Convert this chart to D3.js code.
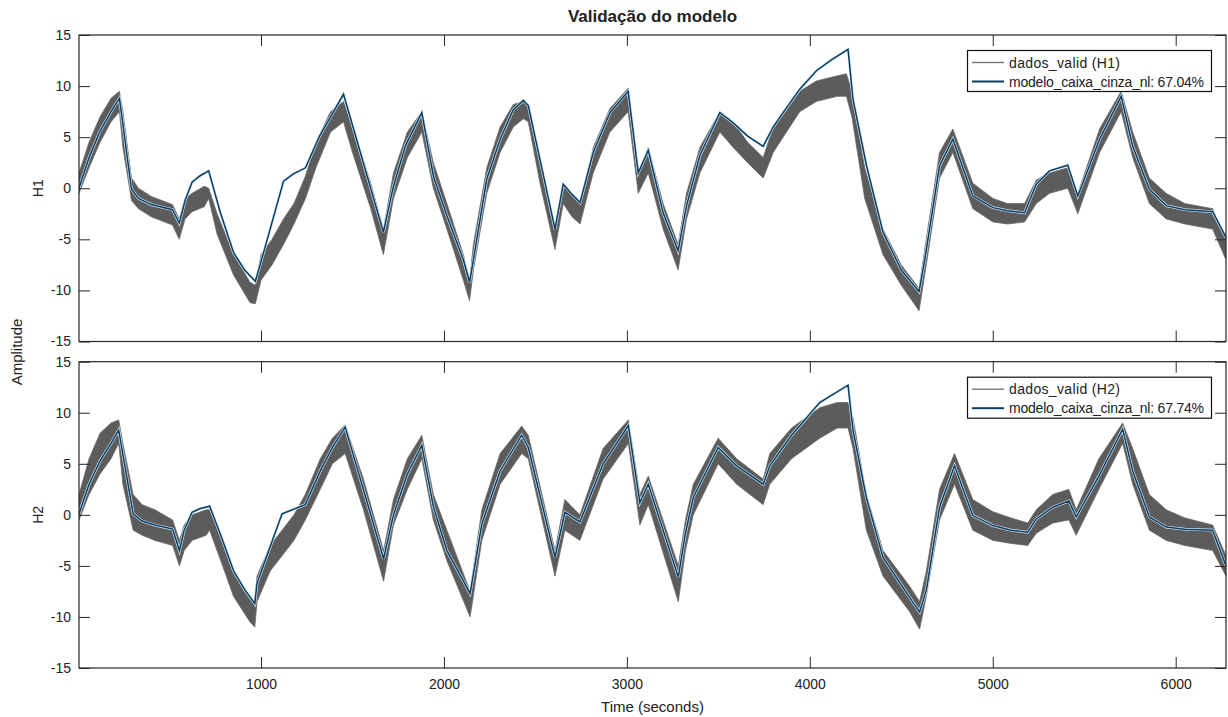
<!DOCTYPE html>
<html>
<head>
<meta charset="utf-8">
<script src="https://cdn.jsdelivr.net/npm/d3@7"></script>
<style>
    body { margin: 0; background: #fff; }
    text { font-family: "Liberation Sans", Arial, sans-serif; fill: #222; }
</style>
</head>
<body>
<svg id="drawing_region"></svg>
<script>
// tick values
const xTicks = [1000, 2000, 3000, 4000, 5000, 6000];
const yTicks = [-15, -10, -5, 0, 5, 10, 15];

// modelo_caixa_cinza_nl, saida H1  [tempo, amplitude]
const modeloH1 = [
    [5, 0], [60, 3.0], [120, 5.6], [180, 7.5], [226, 8.8], [292, -0.1], [330, -1.0], [400, -1.6],
    [516, -2.1], [553, -3.4], [585, -1.2], [623, 0.6], [665, 1.2], [714, 1.7], [745, -0.3], [778, -2.4],
    [850, -6.3], [910, -8.0], [969, -9.1], [1014, -6.3], [1123, 0.7], [1177, 1.4], [1243, 2.0],
    [1320, 5.1], [1390, 7.3], [1451, 9.2], [1669, -4.3], [1724, 0.2], [1790, 4.2], [1879, 7.4],
    [1942, 1.2], [2016, -2.7], [2106, -7.0], [2140, -9.2], [2161, -7.0], [2234, 0.9], [2307, 4.8],
    [2379, 7.7], [2434, 8.6], [2461, 8.1], [2525, 2.8], [2607, -4.0], [2652, 0.4], [2700, -0.6],
    [2744, -1.4], [2816, 3.5], [2907, 7.4], [3007, 9.5], [3062, 1.5], [3117, 3.7], [3198, -2.4],
    [3280, -6.1], [3326, -1.7], [3399, 3.2], [3508, 7.4], [3581, 6.4], [3660, 5.1], [3745, 4.1],
    [3800, 6.0], [3854, 7.4], [3945, 9.7], [4036, 11.5], [4120, 12.6], [4209, 13.6], [4236, 8.7],
    [4310, 2.2], [4400, -4.3], [4500, -8.0], [4597, -10.1], [4628, -7.0], [4709, 2.2], [4782, 4.8],
    [4891, -0.75], [5001, -1.9], [5080, -2.2], [5174, -2.4], [5238, 0.4], [5310, 1.7], [5410, 2.25],
    [5465, -0.75], [5584, 4.8], [5702, 9.0], [5765, 4.1], [5856, -0.1], [5948, -1.7], [6050, -2.1],
    [6202, -2.3], [6275, -4.8]
];

// dados_valid H1, faixa do sinal medido  [tempo, min, max]
const dadosH1 = [
    [5, -0.5, 1.5], [60, 2.0, 4.5], [120, 4.5, 7.0], [180, 6.5, 8.8], [226, 7.5, 9.5], [245, 4.0, 7.5],
    [292, -1.2, 1.0], [330, -2.0, 0.0], [400, -2.8, -0.8], [516, -3.6, -1.6], [553, -5.0, -3.0],
    [585, -3.0, -1.0], [623, -2.3, -0.5], [690, -1.8, 0.2], [714, -1.0, 0.0], [760, -4.5, -2.5],
    [850, -8.5, -6.5], [940, -11.2, -9.2], [969, -11.3, -9.5], [1000, -9.0, -6.5], [1060, -7.5, -5.0],
    [1123, -5.5, -3.0], [1180, -3.5, -1.5], [1243, -1.0, 1.2], [1300, 2.0, 4.5], [1380, 5.5, 7.5],
    [1451, 6.5, 8.5], [1500, 3.5, 6.0], [1600, -2.0, 0.5], [1669, -6.5, -4.0], [1724, -1.0, 1.5],
    [1800, 3.0, 5.5], [1879, 5.5, 7.5], [1942, 0.0, 2.5], [2016, -4.0, -1.5], [2106, -9.0, -6.5],
    [2140, -11.0, -9.0], [2161, -8.0, -5.5], [2234, -0.5, 2.0], [2307, 3.5, 6.0], [2379, 6.0, 8.2],
    [2434, 6.8, 8.5], [2461, 6.5, 8.0], [2525, 0.5, 3.0], [2607, -6.0, -4.0], [2652, -1.5, 0.5],
    [2700, -2.8, -0.5], [2744, -3.5, -1.5], [2816, 1.5, 4.0], [2907, 5.5, 7.8], [3007, 7.5, 9.8],
    [3062, -0.5, 1.5], [3117, 1.5, 4.0], [3198, -4.0, -1.5], [3280, -8.0, -5.5], [3326, -3.0, -0.5],
    [3399, 1.5, 4.0], [3508, 5.5, 7.5], [3581, 4.0, 6.5], [3660, 2.5, 4.5], [3745, 1.0, 3.0],
    [3800, 3.5, 6.0], [3854, 5.0, 7.5], [3945, 7.5, 9.5], [4036, 8.5, 10.5], [4150, 9.0, 11.0],
    [4200, 9.0, 11.2], [4230, 7.0, 9.5], [4300, -1.0, 2.0], [4400, -6.5, -4.0], [4500, -9.5, -7.5],
    [4597, -12.0, -9.8], [4628, -8.5, -6.0], [4709, 1.0, 3.5], [4782, 3.5, 5.8], [4891, -2.0, 0.5],
    [5001, -3.3, -1.0], [5080, -3.5, -1.5], [5174, -3.3, -1.5], [5238, -1.5, 0.8], [5310, -0.5, 1.5],
    [5410, 0.0, 2.0], [5465, -2.5, -0.5], [5584, 3.5, 5.8], [5702, 7.5, 9.5], [5765, 3.0, 5.5],
    [5856, -1.5, 1.0], [5948, -3.0, -0.5], [6050, -3.5, -1.5], [6202, -4.0, -2.0], [6275, -7.0, -5.0]
];

// modelo_caixa_cinza_nl, saida H2
const modeloH2 = [
    [5, 0.1], [60, 3.0], [120, 5.3], [180, 7.0], [222, 8.3], [301, 0.1], [350, -0.6], [420, -1.0],
    [517, -1.4], [554, -3.5], [580, -1.5], [623, 0.25], [665, 0.6], [719, 0.85], [780, -2.0],
    [850, -5.5], [910, -7.3], [966, -8.7], [978, -6.7], [1115, 0.1], [1242, 1.0], [1324, 4.3],
    [1390, 6.6], [1460, 8.6], [1670, -4.3], [1724, 0.0], [1800, 4.0], [1879, 6.8], [1942, 0.8],
    [2016, -3.5], [2143, -7.7], [2207, -0.9], [2307, 4.3], [2425, 7.8], [2461, 6.6], [2607, -4.15],
    [2661, 0.25], [2743, -0.7], [2870, 5.0], [3008, 8.75], [3071, 1.2], [3117, 3.0], [3281, -6.1],
    [3320, -1.8], [3363, 1.7], [3499, 6.6], [3600, 4.8], [3745, 3.0], [3781, 4.8], [3900, 7.8],
    [4054, 11.0], [4209, 12.7], [4236, 8.3], [4309, 1.7], [4400, -4.15], [4546, -8.1], [4600, -9.5],
    [4637, -7.4], [4709, 0.75], [4791, 4.8], [4891, -0.07], [5001, -1.05], [5100, -1.5], [5191, -1.7],
    [5238, -0.4], [5328, 0.75], [5416, 1.35], [5456, -0.2], [5580, 3.8], [5710, 8.4], [5765, 4.3],
    [5856, -0.2], [5948, -1.2], [6050, -1.4], [6202, -1.5], [6275, -5.0]
];

// dados_valid H2
const dadosH2 = [
    [5, -0.5, 2.0], [60, 2.0, 5.5], [120, 4.0, 8.0], [180, 5.5, 9.0], [222, 7.0, 9.3], [245, 3.0, 7.0],
    [301, -1.5, 2.0], [350, -2.0, 1.0], [420, -2.5, 0.5], [517, -3.0, -0.5], [554, -5.0, -2.5],
    [580, -3.5, -1.0], [623, -2.5, 0.0], [700, -2.0, 0.5], [719, -1.5, 0.5], [780, -4.5, -2.0],
    [850, -8.0, -5.5], [940, -10.5, -8.0], [966, -11.0, -8.5], [978, -8.5, -6.0], [1050, -5.5, -3.0],
    [1115, -4.0, -1.5], [1180, -2.5, 0.0], [1242, -0.5, 2.0], [1324, 2.5, 5.5], [1390, 5.0, 7.5],
    [1460, 6.0, 8.8], [1560, 0.5, 3.5], [1670, -6.5, -3.5], [1724, -1.0, 1.5], [1800, 2.5, 5.5],
    [1879, 5.5, 7.8], [1942, -0.5, 2.0], [2016, -4.5, -1.5], [2143, -10.0, -7.5], [2207, -2.5, 0.5],
    [2307, 3.0, 6.0], [2425, 6.0, 8.7], [2461, 5.5, 7.8], [2607, -6.0, -3.5], [2661, -1.5, 1.5],
    [2743, -2.5, 0.0], [2870, 3.5, 6.5], [3008, 7.0, 9.3], [3071, -1.0, 2.0], [3117, 1.0, 3.8],
    [3281, -8.5, -5.0], [3320, -3.5, -0.5], [3363, 0.0, 3.0], [3499, 5.0, 7.5], [3600, 3.0, 5.5],
    [3745, 1.0, 3.5], [3781, 3.0, 6.0], [3900, 5.5, 8.5], [4054, 7.5, 10.5], [4150, 8.5, 11.0],
    [4209, 8.5, 11.0], [4236, 6.5, 9.5], [4309, -1.5, 2.0], [4400, -6.0, -3.5], [4546, -9.5, -7.0],
    [4600, -11.2, -8.5], [4637, -8.0, -5.5], [4709, -0.5, 2.5], [4791, 3.0, 6.0], [4891, -1.5, 1.5],
    [5001, -2.5, 0.3], [5100, -2.8, -0.3], [5191, -3.0, -0.8], [5238, -1.8, 0.5], [5328, -0.8, 2.0],
    [5416, -0.5, 2.5], [5456, -2.0, 0.5], [5580, 2.5, 5.5], [5710, 7.0, 9.0], [5765, 3.0, 6.5],
    [5856, -1.5, 2.0], [5948, -2.5, 0.5], [6050, -3.0, -0.3], [6202, -3.5, -1.0], [6275, -6.0, -4.0]
];

const legendH1 = ['dados_valid (H1)', 'modelo_caixa_cinza_nl: 67.04%'];
const legendH2 = ['dados_valid (H2)', 'modelo_caixa_cinza_nl: 67.74%'];

const width = 1228, height = 717;
const svg = d3.select('#drawing_region')
    .attr('width', width)
    .attr('height', height);

const left = 79, right = 1226;
const xscale = d3.scaleLinear()
    .domain([5, 6275])
    .range([left, right]);

const panels = [
    { name: 'H1', top: 35, bottom: 341.5, modelo: modeloH1, dados: dadosH1, legend: legendH1, xlabels: false },
    { name: 'H2', top: 361.7, bottom: 668, modelo: modeloH2, dados: dadosH2, legend: legendH2, xlabels: true }
];

const tickLen = 11;
const axisColor = '#262626';
const plain = d => String(d);   // hyphen minus, as in the original figure

panels.forEach((p, i) => {
    const yscale = d3.scaleLinear()
        .domain([-15, 15])
        .range([p.bottom, p.top]);

    const g = svg.append('g');

    g.append('clipPath').attr('id', 'clip' + i)
        .append('rect')
        .attr('x', left).attr('y', p.top)
        .attr('width', right - left).attr('height', p.bottom - p.top);

    const plot = g.append('g').attr('clip-path', `url(#clip${i})`);

    // measured data band
    const area = d3.area()
        .x(d => xscale(d[0]))
        .y0(d => yscale(d[1]))
        .y1(d => yscale(d[2]));
    plot.append('path')
        .attr('d', area(p.dados))
        .attr('fill', '#5c5c5c')
        .attr('stroke', '#6a6a6a')
        .attr('stroke-width', 0.8);

    // model line
    const line = d3.line()
        .x(d => xscale(d[0]))
        .y(d => yscale(d[1]));
    plot.append('path')
        .attr('d', line(p.modelo))
        .attr('fill', 'none')
        .attr('stroke', '#d2ebf7')
        .attr('stroke-width', 2.8);
    plot.append('path')
        .attr('d', line(p.modelo))
        .attr('fill', 'none')
        .attr('stroke', '#0b3c62')
        .attr('stroke-width', 1.5);

    // axes, ticks pointing inward like MATLAB
    const yLeft = d3.axisLeft(yscale).tickValues(yTicks).tickSize(-tickLen).tickPadding(8).tickFormat(plain);
    const yRight = d3.axisRight(yscale).tickValues(yTicks).tickSize(-tickLen).tickFormat('');
    const xTop = d3.axisTop(xscale).tickValues(xTicks).tickSize(-tickLen).tickFormat('');
    const xBottom = d3.axisBottom(xscale).tickValues(xTicks).tickSize(-tickLen)
        .tickPadding(11)
        .tickFormat(p.xlabels ? plain : '');

    const axes = [
        g.append('g').attr('transform', `translate(${left},0)`).call(yLeft),
        g.append('g').attr('transform', `translate(${right},0)`).call(yRight),
        g.append('g').attr('transform', `translate(0,${p.top})`).call(xTop),
        g.append('g').attr('transform', `translate(0,${p.bottom})`).call(xBottom)
    ];
    axes.forEach(a => {
        a.select('.domain').remove();
        a.selectAll('line').attr('stroke', axisColor);
        a.selectAll('text').attr('font-size', 14).attr('fill', '#222')
            .attr('font-family', '"Liberation Sans", Arial, sans-serif');
    });

    g.append('rect')
        .attr('x', left).attr('y', p.top)
        .attr('width', right - left).attr('height', p.bottom - p.top)
        .attr('fill', 'none')
        .attr('stroke', axisColor)
        .attr('stroke-width', 1.2);

    // panel label
    g.append('text')
        .attr('transform', `translate(43,${(p.top + p.bottom) / 2}) rotate(-90)`)
        .attr('text-anchor', 'middle')
        .attr('font-size', 14)
        .text(p.name);

    // legend
    const lg = g.append('g').attr('transform', `translate(967.5,${p.top + 15.5})`);
    lg.append('rect')
        .attr('width', 244).attr('height', 41)
        .attr('fill', '#fff')
        .attr('stroke', '#111')
        .attr('stroke-width', 1.2);
    const colors = ['#6e6e6e', '#0b3c62'];
    const widths = [1.3, 2];
    p.legend.forEach((txt, k) => {
        const cy = 12 + k * 19;
        lg.append('line')
            .attr('x1', 4.5).attr('x2', 36.5)
            .attr('y1', cy).attr('y2', cy)
            .attr('stroke', colors[k])
            .attr('stroke-width', widths[k]);
        lg.append('text')
            .attr('x', 41.5).attr('y', cy + 5)
            .attr('font-size', 14)
            .attr('textLength', k == 0 ? 111 : 195)
            .text(txt);
    });
});

// title and shared labels
svg.append('text')
    .attr('x', (left + right) / 2).attr('y', 22)
    .attr('text-anchor', 'middle')
    .attr('font-size', 17)
    .attr('font-weight', 'bold')
    .attr('fill', '#111')
    .text('Validação do modelo');

svg.append('text')
    .attr('transform', 'translate(22,352) rotate(-90)')
    .attr('text-anchor', 'middle')
    .attr('font-size', 15)
    .text('Amplitude');

svg.append('text')
    .attr('x', (left + right) / 2).attr('y', 712)
    .attr('text-anchor', 'middle')
    .attr('font-size', 15)
    .text('Time (seconds)');
</script>
</body>
</html>
